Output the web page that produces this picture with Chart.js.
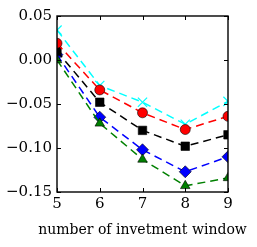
<!DOCTYPE html>
<html>
<head>
<meta charset="utf-8">
<script src="https://cdn.jsdelivr.net/npm/chart.js@4.4.0/dist/chart.umd.min.js"></script>
<style>
  html, body { margin: 0; padding: 0; background: #fff; }
  #wrap { width: 257px; height: 247px; }
</style>
</head>
<body>
<div id="wrap"><canvas id="lineChart" width="257" height="247"></canvas></div>
<script>
const windows = [5, 6, 7, 8, 9];
const yTicks = [0.05, 0.00, -0.05, -0.10, -0.15];
const xTitle = 'number of invetment window';

const cyanValues  = [0.034, -0.029, -0.048, -0.073, -0.047];
const redValues   = [0.019, -0.034, -0.060, -0.079, -0.064];
const blackValues = [0.010, -0.048, -0.080, -0.098, -0.085];
const blueValues  = [0.006, -0.065, -0.102, -0.127, -0.110];
const greenValues = [0.000, -0.072, -0.113, -0.143, -0.134];

const serif = "'DejaVu Serif', serif";

const toPoints = (vals) => vals.map((v, i) => ({ x: windows[i], y: v }));

const makeSet = (vals, color, style, radius, edge) => ({
    data: toPoints(vals),
    borderColor: color,
    borderWidth: 1.5,
    borderDash: [8, 5],
    pointStyle: style,
    pointRadius: radius,
    pointBackgroundColor: color,
    pointBorderColor: edge,
    pointBorderWidth: style === 'crossRot' ? 1.2 : 0.6,
    clip: 0,
    tension: 0
});

// inward ticks on all four sides + frame, and the x title (chart.js squeezes
// titles wider than the plot, the original one runs past it)
const frameTicks = {
    id: 'frameTicks',
    afterDatasetsDraw(chart) {
        const { ctx, chartArea: a, scales } = chart;
        ctx.save();
        ctx.strokeStyle = '#000';
        ctx.lineWidth = 1;
        ctx.beginPath();
        yTicks.forEach(t => {
            const y = Math.round(scales.y.getPixelForValue(t)) + 0.5;
            ctx.moveTo(a.left, y); ctx.lineTo(a.left + 4, y);
            ctx.moveTo(a.right, y); ctx.lineTo(a.right - 4, y);
        });
        windows.forEach(t => {
            const x = Math.round(scales.x.getPixelForValue(t)) + 0.5;
            ctx.moveTo(x, a.bottom); ctx.lineTo(x, a.bottom - 4);
            ctx.moveTo(x, a.top); ctx.lineTo(x, a.top + 4);
        });
        ctx.stroke();
        ctx.lineWidth = 1.4;
        ctx.strokeRect(a.left, a.top, a.right - a.left, a.bottom - a.top);

        ctx.fillStyle = '#000';
        ctx.font = '14px ' + serif;
        ctx.textAlign = 'center';
        ctx.textBaseline = 'middle';
        ctx.fillText(xTitle, (a.left + a.right) / 2, 230);
        ctx.restore();
    }
};

new Chart(document.getElementById('lineChart'), {
    type: 'line',
    data: {
        datasets: [
            makeSet(redValues, '#ff0000', 'circle', 5, '#000'),
            makeSet(blackValues, '#000000', 'rect', 6, '#000'),
            makeSet(greenValues, '#008000', 'triangle', 5.5, '#000'),
            makeSet(blueValues, '#0000ff', 'rectRot', 6, '#000'),
            makeSet(cyanValues, '#00ffff', 'crossRot', 6.5, '#00ffff')
        ]
    },
    options: {
        responsive: false,
        animation: false,
        devicePixelRatio: 1,
        layout: { padding: { top: 16, right: 29, left: 0, bottom: 0 } },
        plugins: {
            legend: { display: false },
            tooltip: { enabled: false }
        },
        scales: {
            x: {
                type: 'linear',
                min: 5,
                max: 9,
                afterBuildTicks: (s) => { s.ticks = windows.map(v => ({ value: v })); },
                afterFit: (s) => { s.height = 55; },
                grid: { display: false, drawTicks: false },
                border: { display: false },
                ticks: {
                    color: '#000',
                    padding: 3,
                    font: { family: serif, size: 15 },
                    callback: (v) => String(v)
                }
            },
            y: {
                min: -0.15,
                max: 0.05,
                afterBuildTicks: (s) => { s.ticks = yTicks.map(v => ({ value: v })); },
                afterFit: (s) => { s.width = 57; },
                grid: { display: false, drawTicks: false },
                border: { display: false },
                ticks: {
                    color: '#000',
                    padding: 5,
                    font: { family: serif, size: 15 },
                    callback: (v) => {
                        const s = Math.abs(v).toFixed(2);
                        return v < -1e-9 ? '\u2212' + s : s;
                    }
                }
            }
        }
    },
    plugins: [frameTicks]
});
</script>
</body>
</html>
